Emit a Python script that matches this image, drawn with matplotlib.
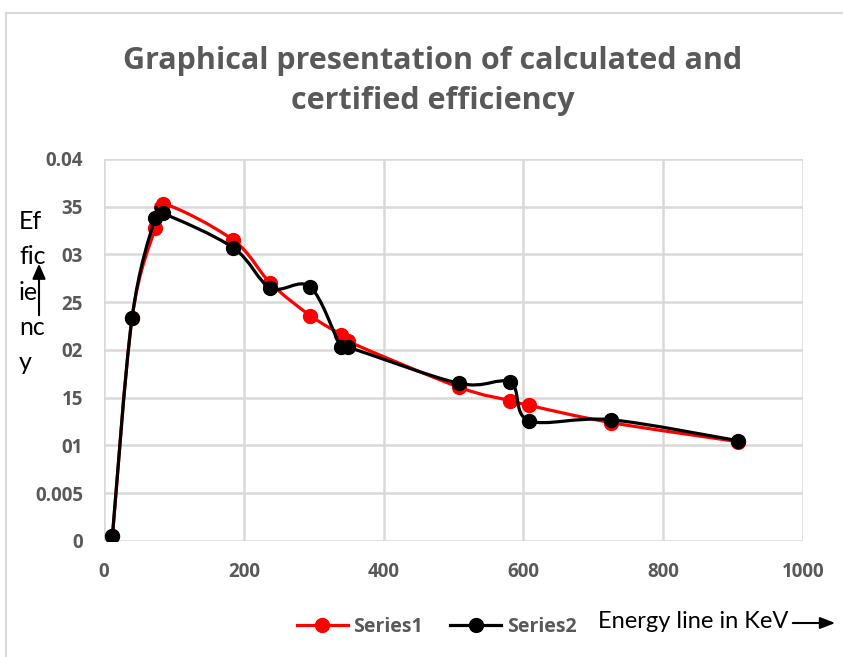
import matplotlib
matplotlib.use("Agg")
import matplotlib.pyplot as plt
import numpy as np
from matplotlib.path import Path
from matplotlib.patches import PathPatch
from matplotlib.lines import Line2D

# data
energy1 = [12, 40, 73, 84, 185, 238, 295, 339, 349, 508, 581, 608, 725, 907]
eff1 = [0.0005, 0.0233, 0.0328, 0.0353, 0.0315, 0.0270, 0.0236, 0.0216, 0.0209,
        0.0161, 0.0147, 0.0142, 0.0124, 0.0104]
energy2 = [12, 40, 73, 84, 185, 238, 295, 339, 349, 508, 581, 608, 725, 907]
eff2 = [0.0005, 0.0233, 0.0338, 0.0343, 0.0307, 0.0265, 0.0266, 0.0203, 0.0203,
        0.0165, 0.0166, 0.0126, 0.0127, 0.0105]

ytick_vals = [0, 0.005, 0.01, 0.015, 0.02, 0.025, 0.03, 0.035, 0.04]
ytick_text = ["0", "0.005", "01", "15", "02", "25", "03", "35", "0.04"]
xtick_vals = [0, 200, 400, 600, 800, 1000]

grey = "#595959"
grid = "#d9d9d9"
fnt = "Open Sans"
fnt2 = "Lato"

def smooth_path(xs, ys):
    # excel style smoothed line (catmull-rom as bezier)
    p = np.column_stack([xs, ys]).astype(float)
    pp = np.vstack([p[0], p, p[-1]])
    verts = [p[0]]
    codes = [Path.MOVETO]
    for i in range(1, len(pp) - 2):
        c1 = pp[i] + (pp[i + 1] - pp[i - 1]) / 6
        c2 = pp[i + 1] - (pp[i + 2] - pp[i]) / 6
        verts += [c1, c2, pp[i + 1]]
        codes += [Path.CURVE4] * 3
    return Path(verts, codes)

fig = plt.figure(figsize=(8.43, 6.57), dpi=100)
ax = fig.add_axes([0.1234, 0.1766, 0.8292, 0.5814])

# outer chart border
fig.add_artist(Line2D([6 / 843, 6 / 843], [0, 1 - 13 / 657], transform=fig.transFigure,
                      color=grid, lw=1.5))
fig.add_artist(Line2D([6 / 843, 1], [1 - 13 / 657, 1 - 13 / 657], transform=fig.transFigure,
                      color=grid, lw=1.5))

for xs, ys, c, z in [(energy1, eff1, "#ff0000", 3), (energy2, eff2, "black", 4)]:
    ax.add_patch(PathPatch(smooth_path(xs, ys), facecolor="none", edgecolor=c, lw=2.3,
                           zorder=z, capstyle="round", joinstyle="round"))
    ax.plot(xs, ys, "o", color=c, ms=10, zorder=z)

ax.set_xlim(0, 1000)
ax.set_ylim(0, 0.04)
ax.set_xticks(xtick_vals)
ax.set_yticks(ytick_vals)
ax.set_yticklabels(ytick_text)
ax.tick_params(length=0, labelsize=13.5, labelcolor=grey)
ax.tick_params(axis="y", pad=15)
ax.tick_params(axis="x", pad=15)
for lab in ax.get_xticklabels() + ax.get_yticklabels():
    lab.set_fontweight("bold")
    lab.set_family(fnt)
ax.grid(True, color=grid, lw=1.8)
ax.set_axisbelow(True)
for s in ax.spines.values():
    s.set_visible(False)

fig.text(0.513, 1 - 81 / 657, "Graphical presentation of calculated and\ncertified efficiency",
         ha="center", va="center", fontsize=22, fontweight="bold", color=grey, family=fnt,
         linespacing=1.45)

# y label as stacked text with arrow
fig.text(19 / 843, 1 - 210 / 657, "Ef\nfic\nie\nnc\ny", ha="left", va="top", fontsize=18,
         color="black", family=fnt2, linespacing=1.65)
fig.add_artist(plt.Annotation("", xy=(39 / 843, 1 - 261 / 657), xytext=(39 / 843, 1 - 318 / 657),
                              xycoords="figure fraction", textcoords="figure fraction",
                              arrowprops=dict(arrowstyle="-|>,head_length=0.9,head_width=0.4",
                                              color="black", lw=1.5)))

handles = [Line2D([], [], color="#ff0000", lw=2.3, marker="o", ms=10),
           Line2D([], [], color="black", lw=2.3, marker="o", ms=10)]
fig.legend(handles, ["Series1", "Series2"], loc="center", bbox_to_anchor=(0.518, 1 - 627 / 657),
           ncol=2, frameon=False, handlelength=2.6, handletextpad=0.3, columnspacing=1.4,
           prop=dict(family=fnt, weight="bold", size=14), labelcolor=grey)

fig.text(598 / 843, 1 - 621 / 657, "Energy line in KeV", ha="left", va="center", fontsize=17,
         color="black", family=fnt2)
fig.add_artist(plt.Annotation("", xy=(838 / 843, 1 - 623 / 657), xytext=(790 / 843, 1 - 623 / 657),
                              xycoords="figure fraction", textcoords="figure fraction",
                              arrowprops=dict(arrowstyle="-|>,head_length=0.9,head_width=0.35",
                                              color="black", lw=1.5)))

fig.savefig("out.png", dpi=100)
